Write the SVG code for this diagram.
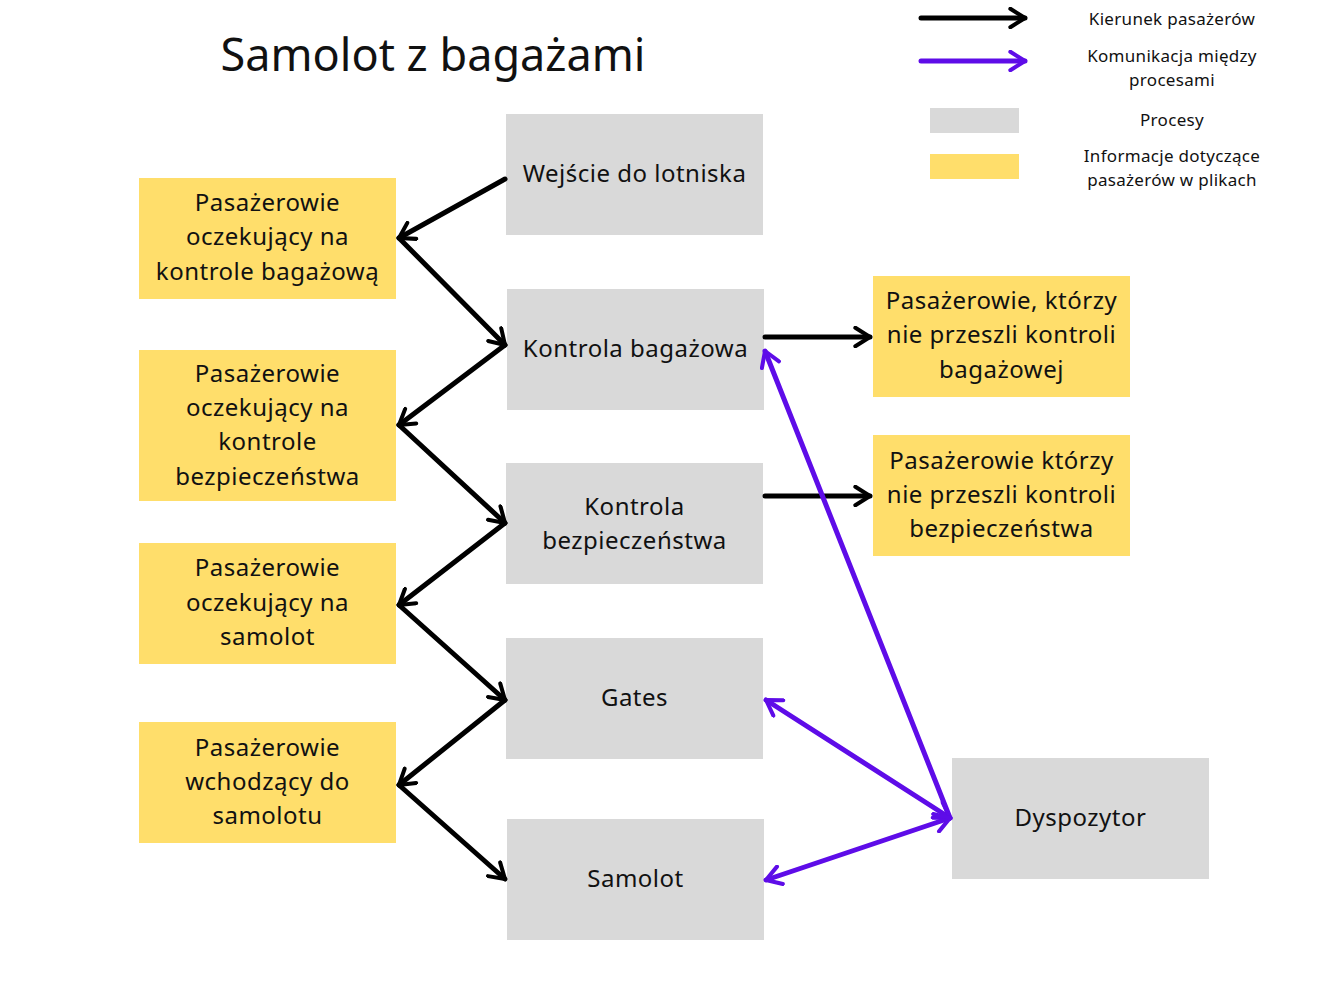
<svg xmlns="http://www.w3.org/2000/svg" width="1322" height="997" viewBox="0 0 1322 997">
<style>
.y{fill:#ffde6b}
.g{fill:#d9d9d9}
text{font-family:"Noto Sans","Open Sans",sans-serif;fill:#111;text-anchor:middle}
.t{font-size:24px;letter-spacing:0.5px}
.l{font-size:17px;letter-spacing:0.3px}
.b{stroke:#000;stroke-width:5;fill:none;stroke-linecap:round}
.p{stroke:#5e0ce8;stroke-width:5;fill:none;stroke-linecap:round}
</style>
<defs>
<marker id="ab" viewBox="0 0 12 12" refX="10" refY="6" markerWidth="4.4" markerHeight="4.4" orient="auto-start-reverse" markerUnits="strokeWidth">
<path d="M2,1 L10,6 L2,11" fill="none" stroke="#000" stroke-width="2.2" stroke-linecap="round" stroke-linejoin="round"/>
</marker>
<marker id="ap" viewBox="0 0 12 12" refX="10" refY="6" markerWidth="4.4" markerHeight="4.4" orient="auto-start-reverse" markerUnits="strokeWidth">
<path d="M2,1 L10,6 L2,11" fill="none" stroke="#5e0ce8" stroke-width="2.2" stroke-linecap="round" stroke-linejoin="round"/>
</marker>
</defs>
<rect width="1322" height="997" fill="#fff"/>
<text x="433" y="71" style="font-size:45px">Samolot z bagażami</text>

<g id="legend">
<line class="b" x1="921" y1="18" x2="1025" y2="18" marker-end="url(#ab)"/>
<line class="p" x1="921" y1="61" x2="1025" y2="61" marker-end="url(#ap)"/>
<rect class="g" x="930" y="108" width="89" height="25"/>
<rect class="y" x="930" y="154" width="89" height="25"/>
<text class="l" x="1172" y="25">Kierunek pasażerów</text>
<text class="l" x="1172" y="62">Komunikacja między</text>
<text class="l" x="1172" y="86">procesami</text>
<text class="l" x="1172" y="126">Procesy</text>
<text class="l" x="1172" y="162">Informacje dotyczące</text>
<text class="l" x="1172" y="186">pasażerów w plikach</text>
</g>

<g id="n_wejscie"><rect class="g" x="506" y="114" width="257" height="121"/><text class="t" x="634.5" y="182">Wejście do lotniska</text></g>
<g id="n_kbag"><rect class="g" x="507" y="289" width="257" height="121"/><text class="t" x="635.5" y="357">Kontrola bagażowa</text></g>
<g id="n_kbez"><rect class="g" x="506" y="463" width="257" height="121"/><text class="t" x="634.5" y="515">Kontrola</text><text class="t" x="634.5" y="549">bezpieczeństwa</text></g>
<g id="n_gates"><rect class="g" x="506" y="638" width="257" height="121"/><text class="t" x="634.5" y="706">Gates</text></g>
<g id="n_samolot"><rect class="g" x="507" y="819" width="257" height="121"/><text class="t" x="635.5" y="887">Samolot</text></g>
<g id="n_dysp"><rect class="g" x="952" y="758" width="257" height="121"/><text class="t" x="1080.5" y="826">Dyspozytor</text></g>

<g id="n_p1"><rect class="y" x="139" y="178" width="257" height="121"/><text class="t" x="267.5" y="211">Pasażerowie</text><text class="t" x="267.5" y="245">oczekujący na</text><text class="t" x="267.5" y="280">kontrole bagażową</text></g>
<g id="n_p2"><rect class="y" x="139" y="350" width="257" height="151"/><text class="t" x="267.5" y="382">Pasażerowie</text><text class="t" x="267.5" y="416">oczekujący na</text><text class="t" x="267.5" y="450">kontrole</text><text class="t" x="267.5" y="485">bezpieczeństwa</text></g>
<g id="n_p3"><rect class="y" x="139" y="543" width="257" height="121"/><text class="t" x="267.5" y="576">Pasażerowie</text><text class="t" x="267.5" y="611">oczekujący na</text><text class="t" x="267.5" y="645">samolot</text></g>
<g id="n_p4"><rect class="y" x="139" y="722" width="257" height="121"/><text class="t" x="267.5" y="756">Pasażerowie</text><text class="t" x="267.5" y="790">wchodzący do</text><text class="t" x="267.5" y="824">samolotu</text></g>
<g id="n_f1"><rect class="y" x="873" y="276" width="257" height="121"/><text class="t" x="1001.5" y="309">Pasażerowie, którzy</text><text class="t" x="1001.5" y="343">nie przeszli kontroli</text><text class="t" x="1001.5" y="378">bagażowej</text></g>
<g id="n_f2"><rect class="y" x="873" y="435" width="257" height="121"/><text class="t" x="1001.5" y="469">Pasażerowie którzy</text><text class="t" x="1001.5" y="503">nie przeszli kontroli</text><text class="t" x="1001.5" y="537">bezpieczeństwa</text></g>

<g id="connectors">
<line class="b" x1="505" y1="179" x2="399" y2="238" marker-end="url(#ab)"/>
<line class="b" x1="399" y1="238" x2="505" y2="345" marker-end="url(#ab)"/>
<line class="b" x1="505" y1="345" x2="399" y2="425" marker-end="url(#ab)"/>
<line class="b" x1="399" y1="425" x2="505" y2="523" marker-end="url(#ab)"/>
<line class="b" x1="505" y1="523" x2="399" y2="605" marker-end="url(#ab)"/>
<line class="b" x1="399" y1="605" x2="505" y2="700" marker-end="url(#ab)"/>
<line class="b" x1="505" y1="700" x2="399" y2="785" marker-end="url(#ab)"/>
<line class="b" x1="399" y1="785" x2="505" y2="879" marker-end="url(#ab)"/>
<line class="b" x1="765" y1="337" x2="870" y2="337" marker-end="url(#ab)"/>
<line class="b" x1="765" y1="496" x2="870" y2="496" marker-end="url(#ab)"/>
<line class="p" x1="950" y1="818" x2="765" y2="351" marker-end="url(#ap)"/>
<line class="p" x1="766" y1="700" x2="950" y2="818" marker-start="url(#ap)" marker-end="url(#ap)"/>
<line class="p" x1="766" y1="880" x2="950" y2="818" marker-start="url(#ap)" marker-end="url(#ap)"/>
</g>
</svg>
